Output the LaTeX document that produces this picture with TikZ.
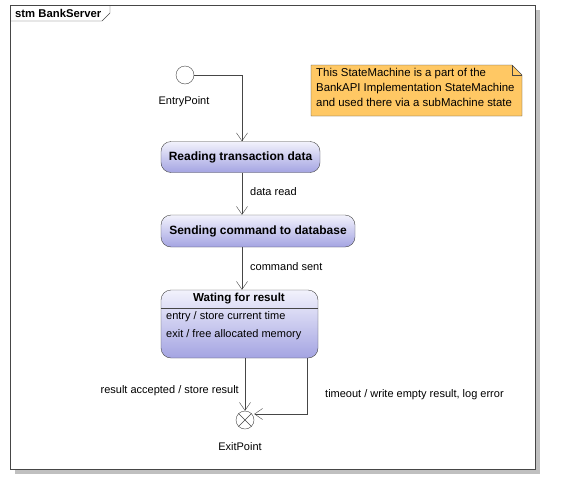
\documentclass[tikz,border=0pt]{standalone}
\usepackage{fontspec}
\setmainfont{Liberation Sans}
\usetikzlibrary{arrows.meta}
\definecolor{linegray}{RGB}{70,70,70}
\definecolor{shadowgray}{RGB}{192,192,192}
\definecolor{notefill}{RGB}{255,200,100}
\definecolor{statetop}{RGB}{242,242,252}
\definecolor{statebottom}{RGB}{164,164,226}
\tikzset{
    statebox/.style={draw=linegray, rounded corners=10pt, top color=statetop,
        bottom color=statebottom, font=\fontsize{12}{14}\selectfont\bfseries, inner sep=0pt},
    trans/.style={draw=linegray, -{Straight Barb[length=8pt,width=11pt]}},
    txt/.style={inner sep=0pt, font=\fontsize{11}{13}\selectfont},
}
\begin{document}
\begin{tikzpicture}[x=1pt, y=-1pt, font=\fontsize{11}{13}\selectfont]
    \useasboundingbox (0,0) rectangle (562,490);
    % frame
    \fill[shadowgray] (15,10) rectangle (540,474);
    \draw[linegray, fill=white] (10,5) rectangle (535,469);
    \draw[linegray] (10,21) -- (102,21) -- (110,13) -- (110,5);
    \node[txt, anchor=west, font=\fontsize{11.3}{13}\selectfont\bfseries] (title) at (15,13) {stm BankServer};
    % note
    \draw[linegray, fill=notefill]
        (311,65) -- (512,65) -- (522,75) -- (522,116) -- (311,116) -- cycle;
    \draw[linegray] (512,65) -- (512,75) -- (522,75);
    \node[txt, anchor=north west, align=left, font=\fontsize{11.4}{15}\selectfont] (note) at (316,68)
        {This StateMachine is a part of the\\BankAPI Implementation StateMachine\\and used there via a subMachine state};
    % pseudo states
    \node[draw=linegray, circle, minimum size=18pt, inner sep=0pt] (entry) at (185,75) {};
    \node[txt] (entrylabel) at (184,102) {EntryPoint};
    \node[draw=linegray, circle, minimum size=18pt, inner sep=0pt] (exit) at (245,420) {};
    \draw[linegray] (exit.north west) -- (exit.south east)
        (exit.north east) -- (exit.south west);
    \node[txt] (exitlabel) at (240,447) {ExitPoint};
    % states
    \coordinate (spine) at (242,0);
    \node[statebox, minimum width=159pt, minimum height=31pt] (reading) at (240.5,157) {Reading transaction data};
    \node[statebox, minimum width=194pt, minimum height=32pt] (sending) at (258,231) {Sending command to database};
    \node[statebox, minimum width=157pt, minimum height=68pt] (waiting) at (239.5,324) {};
    \node[txt, font=\fontsize{11.6}{13}\selectfont\bfseries] (waitname) at (239,299) {Wating for result};
    \draw[linegray] (waiting.west |- 0,308) -- (waiting.east |- 0,308);
    \node[txt, anchor=west] (entryact) at (166,317) {entry / store current time};
    \node[txt, anchor=west] (exitact) at (166,335) {exit / free allocated memory};
    % transitions
    \draw[trans] (entry.east) -| (reading.north -| spine);
    \draw[trans] (reading.south -| spine) -- (sending.north -| spine);
    \draw[trans] (sending.south -| spine) -- (waiting.north -| spine);
    \draw[trans] (waiting.south -| exit) -- (exit.north);
    \coordinate (loop) at (307,414);
    \draw[trans] (waiting.south -| loop) |- (exit.east |- loop);
    \node[txt, anchor=west] (dataread) at (250,192) {data read};
    \node[txt, anchor=west] (cmdsent) at (250,267) {command sent};
    \node[txt, anchor=east] (accepted) at (239,391) {result accepted / store result};
    \node[txt, anchor=west] (timeout) at (325,395) {timeout / write empty result, log error};
\end{tikzpicture}
\end{document}
